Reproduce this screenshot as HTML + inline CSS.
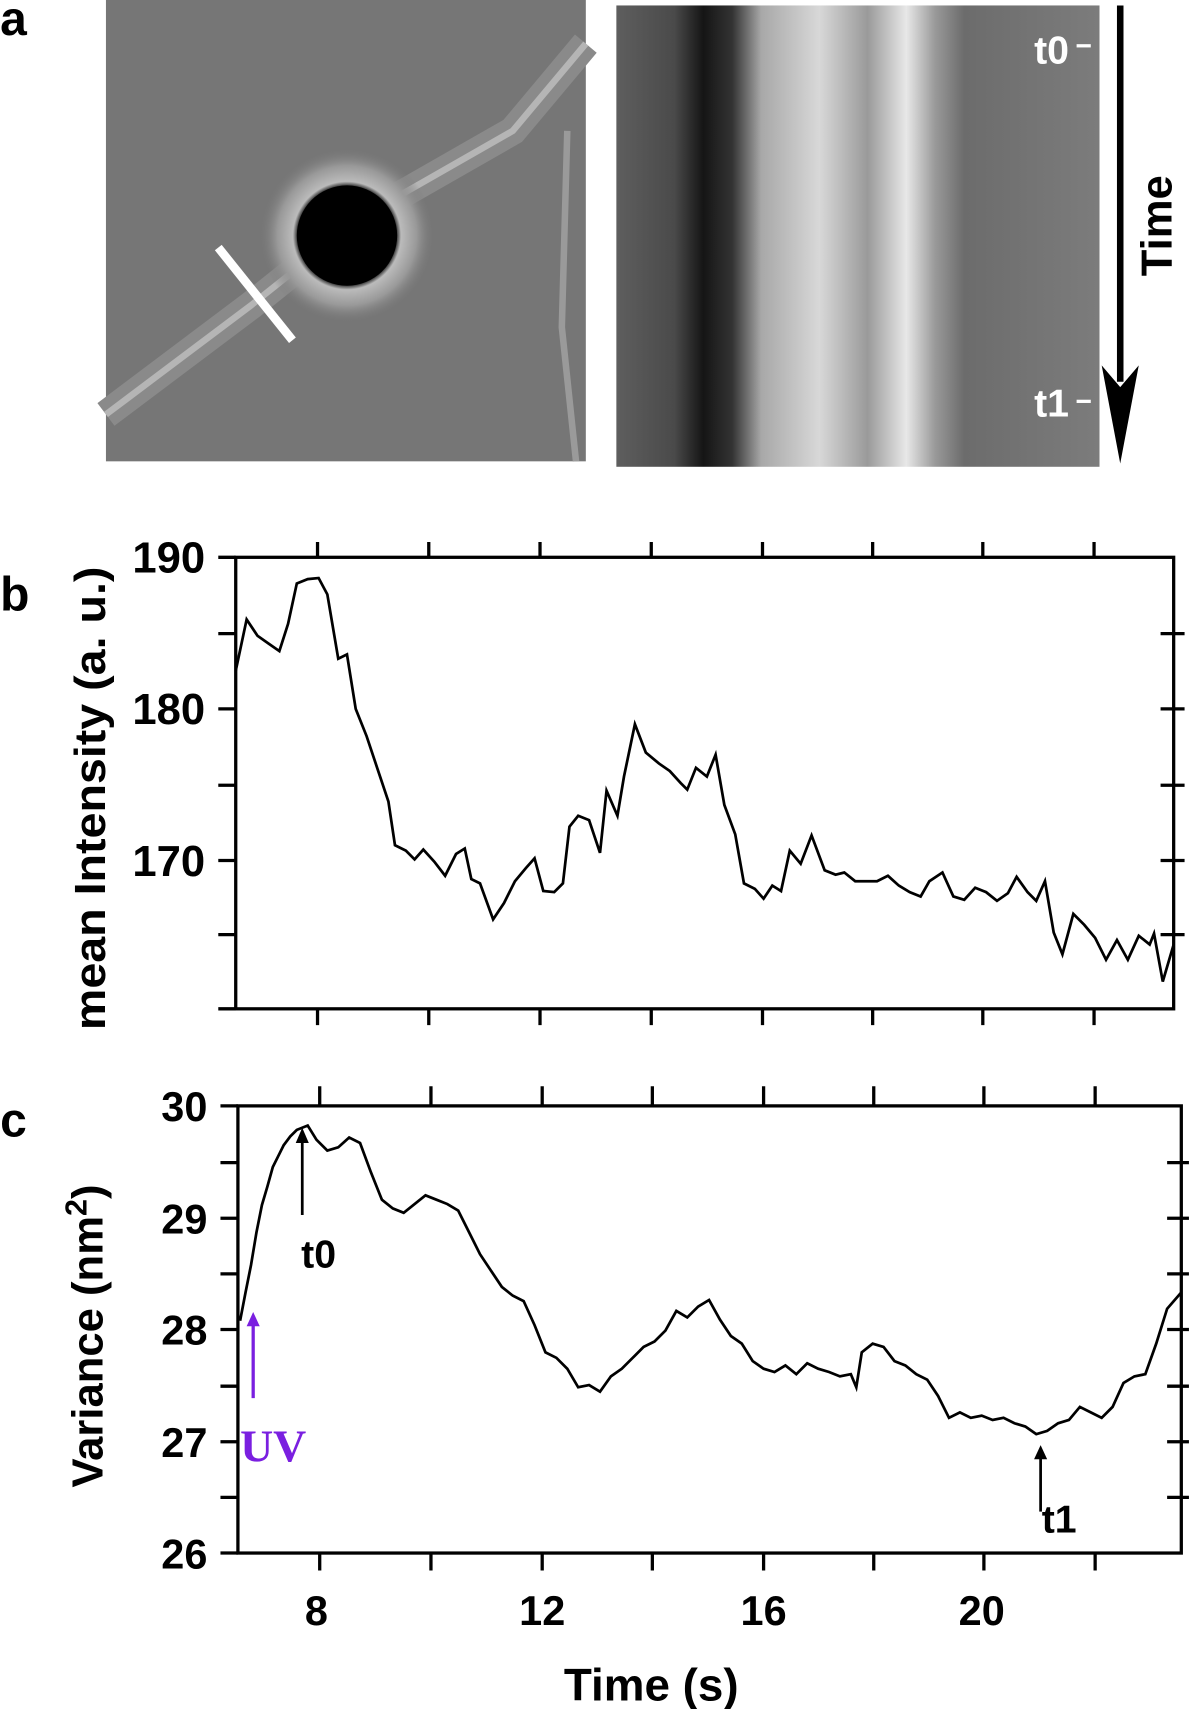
<!DOCTYPE html>
<html><head><style>html,body{margin:0;padding:0;background:#fff}svg{display:block}</style></head>
<body>
<svg width="1200" height="1709" viewBox="0 0 1100 1567" xmlns="http://www.w3.org/2000/svg" font-family="Liberation Sans, sans-serif" font-weight="bold">
<defs>
<radialGradient id="halo" cx="0.5" cy="0.5" r="0.5">
<stop offset="0.55" stop-color="#000"/><stop offset="0.62" stop-color="#bbb"/><stop offset="0.8" stop-color="#999"/><stop offset="1" stop-color="#777" stop-opacity="0"/>
</radialGradient>
<linearGradient id="kym" x1="0" x2="1" y1="0" y2="0">
<stop offset="0" stop-color="#5e5e5e"/><stop offset="0.12" stop-color="#4a4a4a"/><stop offset="0.18" stop-color="#151515"/><stop offset="0.24" stop-color="#333"/><stop offset="0.3" stop-color="#a8a8a8"/><stop offset="0.42" stop-color="#d8d8d8"/><stop offset="0.52" stop-color="#9a9a9a"/><stop offset="0.6" stop-color="#e8e8e8"/><stop offset="0.66" stop-color="#999"/><stop offset="0.72" stop-color="#6c6c6c"/><stop offset="1" stop-color="#7c7c7c"/>
</linearGradient>
</defs>
<!-- panel a -->
<text x="0" y="32" font-size="44">a</text>
<rect x="97" y="0" width="440" height="423" fill="#767676"/>
<path d="M97 380 L230 280 L330 200 L470 120 L537 40" stroke="#8a8a8a" stroke-width="26" fill="none"/>
<path d="M97 380 L230 280 L330 200 L470 120 L537 40" stroke="#b5b5b5" stroke-width="6" fill="none"/>
<path d="M520 120 L515 300 L528 423" stroke="#9a9a9a" stroke-width="6" fill="none"/>
<circle cx="318" cy="216" r="80" fill="url(#halo)"/>
<circle cx="318" cy="216" r="46" fill="#000"/>
<line x1="200" y1="227" x2="268" y2="312" stroke="#fff" stroke-width="8"/>
<rect x="565" y="5" width="443" height="423" fill="url(#kym)"/>
<line x1="1027" y1="5" x2="1027" y2="350" stroke="#000" stroke-width="6"/>
<polygon points="1010,335 1027,425 1044,335 1027,355" fill="#000"/>
<text x="0" y="0" font-size="40" transform="translate(1074,207) rotate(-90)" text-anchor="middle">Time</text>
<text x="948" y="58" font-size="36" fill="#fff">t0</text><line x1="987" y1="42" x2="1000" y2="42" stroke="#fff" stroke-width="3"/>
<text x="948" y="382" font-size="36" fill="#fff">t1</text><line x1="987" y1="368" x2="1000" y2="368" stroke="#fff" stroke-width="3"/>
<!-- panel b -->
<text x="0" y="560" font-size="44">b</text>
<g stroke="#000" stroke-width="3" fill="none">
<rect x="216" y="511" width="860" height="414"/>
<path d="M200 511H216M200 581H216M200 650H216M200 720H216M200 789H216M200 857H216M200 925H216"/>
<path d="M1064 581H1086M1064 650H1086M1064 720H1086M1064 789H1086M1064 857H1086"/>
<path d="M291 497V511M393 497V511M495 497V511M597 497V511M699 497V511M800 497V511M901 497V511M1003 497V511"/>
<path d="M291 925V940M393 925V940M495 925V940M597 925V940M699 925V940M800 925V940M901 925V940M1003 925V940"/>
</g>
<g font-size="40" text-anchor="end"><text x="188" y="525">190</text><text x="188" y="664">180</text><text x="188" y="803">170</text></g>
<text font-size="40" transform="translate(96,732) rotate(-90)" text-anchor="middle" textLength="425" lengthAdjust="spacingAndGlyphs">mean Intensity (a. u.)</text>
<polyline fill="none" stroke="#000" stroke-width="2.5" points="216,615 226,568 236,583 246,590 256,597 264,572 272,535 282,531 292,530 300,545 310,604 318,600 326,650 336,675 346,705 356,735 362,775 372,780 380,788 388,779 398,790 408,803 418,783 426,778 432,806 440,810 452,843 462,828 472,808 482,796 490,787 498,817 508,818 516,810 522,758 530,748 540,752 550,782 556,725 566,748 572,712 582,664 592,690 604,700 614,707 624,718 630,724 638,704 648,712 656,692 664,738 674,765 682,810 692,815 700,824 708,812 716,817 724,780 734,792 744,766 756,798 766,802 774,800 784,808 804,808 814,803 824,812 834,818 844,822 852,808 864,800 874,822 884,825 894,814 904,818 914,826 924,819 932,804 942,818 950,826 958,808 966,855 974,875 984,838 994,848 1004,860 1014,880 1024,862 1034,880 1044,858 1054,866 1058,856 1066,900 1076,866"/>
<!-- panel c -->
<text x="0" y="1042" font-size="44">c</text>
<g stroke="#000" stroke-width="3" fill="none">
<rect x="218" y="1014" width="865" height="410"/>
<path d="M202 1014H218M202 1066H218M202 1117H218M202 1168H218M202 1219H218M202 1271H218M202 1322H218M202 1373H218M202 1424H218"/>
<path d="M1070 1066H1090M1070 1117H1090M1070 1168H1090M1070 1219H1090M1070 1271H1090M1070 1322H1090M1070 1373H1090"/>
<path d="M293 996V1014M395 996V1014M497 996V1014M598 996V1014M700 996V1014M801 996V1014M902 996V1014M1004 996V1014"/>
<path d="M293 1424V1440M395 1424V1440M497 1424V1440M598 1424V1440M700 1424V1440M801 1424V1440M902 1424V1440M1004 1424V1440"/>
</g>
<g font-size="38" text-anchor="end"><text x="190" y="1028">30</text><text x="190" y="1131">29</text><text x="190" y="1233">28</text><text x="190" y="1336">27</text><text x="190" y="1438">26</text></g>
<g font-size="38" text-anchor="middle"><text x="290" y="1490">8</text><text x="497" y="1490">12</text><text x="700" y="1490">16</text><text x="900" y="1490">20</text></g>
<text x="597" y="1559" font-size="42" text-anchor="middle">Time (s)</text>
<text font-size="40" transform="translate(94,1225) rotate(-90)" text-anchor="middle">Variance (nm<tspan dy="-15" font-size="28">2</tspan><tspan dy="15">)</tspan></text>
<polyline fill="none" stroke="#000" stroke-width="2.5" points="220,1211 225,1185 230,1160 235,1130 240,1105 245,1088 250,1070 255,1060 260,1050 266,1042 272,1036 282,1032 290,1045 300,1055 310,1052 320,1043 330,1048 340,1075 350,1100 360,1108 370,1112 380,1104 390,1096 400,1100 410,1104 420,1110 430,1130 440,1150 450,1165 460,1180 470,1188 480,1193 490,1215 500,1240 510,1245 520,1255 530,1272 540,1270 550,1276 560,1262 570,1255 580,1245 590,1235 600,1230 610,1220 620,1202 630,1208 640,1198 650,1192 660,1210 670,1225 680,1232 690,1248 700,1255 710,1258 720,1252 730,1260 740,1250 750,1255 760,1258 770,1262 780,1260 785,1272 790,1240 800,1232 810,1235 820,1248 830,1252 840,1260 850,1265 860,1280 870,1300 880,1295 890,1300 900,1298 910,1302 920,1300 930,1305 940,1308 950,1315 960,1312 970,1305 980,1302 990,1290 1000,1295 1010,1300 1020,1290 1030,1268 1040,1262 1050,1260 1060,1232 1070,1200 1083,1185"/>
<line x1="277" y1="1114" x2="277" y2="1045" stroke="#000" stroke-width="2.5"/><polygon points="271,1048 277,1034 283,1048" fill="#000"/>
<text x="276" y="1162" font-size="36">t0</text>
<line x1="232" y1="1282" x2="232" y2="1212" stroke="#7a1fe0" stroke-width="3"/><polygon points="226,1216 232,1203 238,1216" fill="#7a1fe0"/>
<text x="220" y="1340" font-size="42" fill="#7a1fe0" font-family="Liberation Serif, serif">UV</text>
<line x1="954" y1="1386" x2="954" y2="1335" stroke="#000" stroke-width="2.5"/><polygon points="948,1338 954,1325 960,1338" fill="#000"/>
<text x="955" y="1405" font-size="36">t1</text>
</svg>
</body></html>
